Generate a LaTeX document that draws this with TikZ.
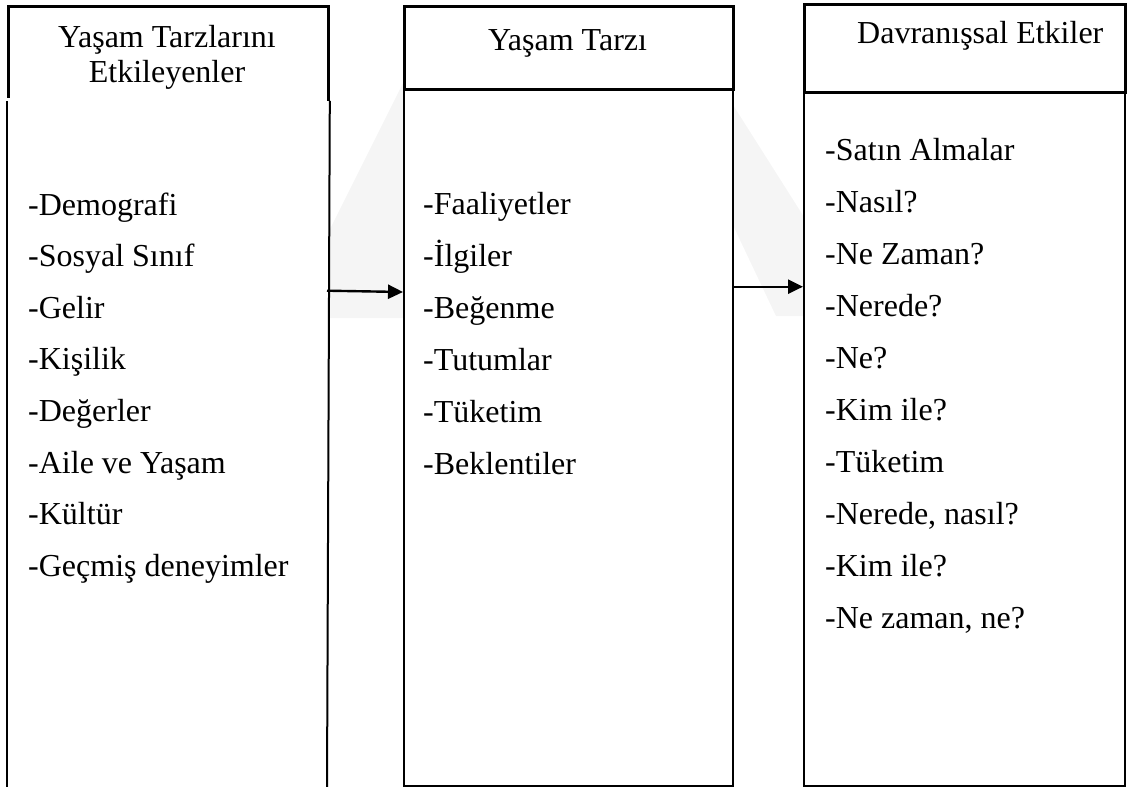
\documentclass[tikz,border=0pt]{standalone}
\usepackage{fontspec}
\setmainfont{Liberation Serif}
\usetikzlibrary{arrows.meta}
\begin{document}
\begin{tikzpicture}[x=1pt,y=-1pt,
  hdr/.style={draw, line width=2.8pt, fill=white, inner sep=0pt, anchor=north west},
  body/.style={draw, line width=2pt, fill=white, inner sep=0pt, anchor=north west},
  side/.style={line width=2pt},
  txt/.style={inner sep=0pt, font=\fontsize{32}{38}\selectfont},
  item/.style={txt, anchor=base west},
  conn/.style={line width=2.4pt, -{Triangle[length=15pt,width=14pt]}},
  emblem/.style={fill=black!4}
]
\useasboundingbox (0,0) rectangle (1133,787);

% faint background emblem, seen between the columns
\fill[emblem] (328,318) -- (328,233) -- (403,83) -- (403,318) -- cycle;
\fill[emblem] (733,105) -- (804,217) -- (804,316) -- (776,316) -- (740,240) -- (733,225) -- cycle;

% left column: header and open body
\node[hdr, minimum width=320pt, minimum height=93pt] (lh) at (7,5) {};
\fill[white] (7,98) rectangle (327,787);
\draw[side] (lh.south west) -- (7,787);
\draw[side] (lh.south east) -- (327,787);
\node[txt, anchor=base] (lt1) at (167,47) {Yaşam Tarzlarını};
\node[txt, anchor=base] (lt2) at (167,82) {Etkileyenler};

% middle column
\node[body, minimum width=329pt, minimum height=697pt] (mb) at (403,88) {};
\node[hdr, minimum width=329pt, minimum height=83pt] (mh) at (403,5) {};
\node[txt, anchor=base] (mt) at (567.5,50) {Yaşam Tarzı};

% right column
\node[body, minimum width=321pt, minimum height=694pt] (rb) at (803,91) {};
\node[hdr, minimum width=321pt, minimum height=88pt] (rh) at (803,3) {};
\node[txt, anchor=base west] (rt) at (857,43) {Davranışsal Etkiler};

% left list
\node[item] (l1) at (28,215.0) {-Demografi};
\node[item] (l2) at (28,266.6) {-Sosyal Sınıf};
\node[item] (l3) at (28,318.2) {-Gelir};
\node[item] (l4) at (28,369.8) {-Kişilik};
\node[item] (l5) at (28,421.4) {-Değerler};
\node[item] (l6) at (28,473.0) {-Aile ve Yaşam};
\node[item] (l7) at (28,524.6) {-Kültür};
\node[item] (l8) at (28,576.2) {-Geçmiş deneyimler};

% middle list
\node[item] (m1) at (423,214) {-Faaliyetler};
\node[item] (m2) at (423,266) {-İlgiler};
\node[item] (m3) at (423,318) {-Beğenme};
\node[item] (m4) at (423,370) {-Tutumlar};
\node[item] (m5) at (423,422) {-Tüketim};
\node[item] (m6) at (423,474) {-Beklentiler};

% right list
\node[item] (r1) at (825,160.0) {-Satın Almalar};
\node[item] (r2) at (825,212.1) {-Nasıl?};
\node[item] (r3) at (825,264.2) {-Ne Zaman?};
\node[item] (r4) at (825,316.3) {-Nerede?};
\node[item] (r5) at (825,368.4) {-Ne?};
\node[item] (r6) at (825,420.5) {-Kim ile?};
\node[item] (r7) at (825,472.6) {-Tüketim};
\node[item] (r8) at (825,524.7) {-Nerede, nasıl?};
\node[item] (r9) at (825,576.8) {-Kim ile?};
\node[item] (r10) at (825,628.9) {-Ne zaman, ne?};

% connectors
\coordinate (a1s) at (327,290.7);
\coordinate (a1e) at (403,292);
\coordinate (a2s) at (732,286.7);
\coordinate (a2e) at (803,286.7);
\draw[conn] (a1s) -- (a1e);
\draw[conn] (a2s) -- (a2e);
\end{tikzpicture}
\end{document}
